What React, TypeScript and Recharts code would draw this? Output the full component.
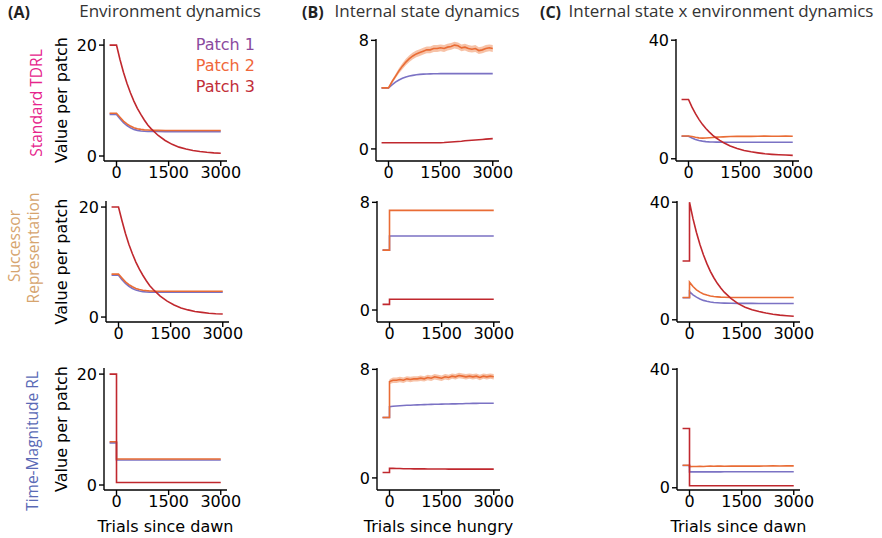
import React from 'react';
import { ComposedChart, Line, Area, XAxis, YAxis } from 'recharts';

// ---------- x grids (trials) ----------
const T = [-200, 0, 0, 100, 200, 300, 400, 500, 600, 700, 800, 900, 1000, 1200, 1400, 1600, 1800, 2000, 2200, 2400, 2600, 2800, 3000];
const T_STEP = [-200, 0, 0, 3000];
const T_FINE = [-200, -100, 0, 0, 100, 200, 300, 400, 500, 600, 700, 800, 900, 1000, 1100, 1200, 1300, 1400, 1500, 1600, 1700, 1800, 1900, 2000, 2100, 2200, 2300, 2400, 2500, 2600, 2700, 2800, 2900, 3000];

const X_TICKS = [0, 1500, 3000];
const A_TICKS = [0, 20];
const B_TICKS = [0, 8];
const C_TICKS = [0, 40];

const PATCH_NAMES = ['Patch 1', 'Patch 2', 'Patch 3'];
const COL_TITLES = ['Environment dynamics', 'Internal state dynamics', 'Internal state x environment dynamics'];
const COL_LETTERS = ['(A)', '(B)', '(C)'];
const X_LABELS = ['Trials since dawn', 'Trials since hungry', 'Trials since dawn'];
const Y_LABEL = 'Value per patch';

// ---------- Row 1: Standard TDRL ----------
const A1_P1 = [7.5, 7.5, 7.5, 6.7, 6.0, 5.5, 5.1, 4.8, 4.62, 4.52, 4.46, 4.43, 4.42, 4.41, 4.4, 4.4, 4.4, 4.4, 4.4, 4.4, 4.4, 4.4, 4.4];
const A1_P2 = [7.7, 7.7, 7.7, 7.0, 6.3, 5.8, 5.4, 5.1, 4.9, 4.8, 4.72, 4.68, 4.65, 4.62, 4.6, 4.6, 4.6, 4.6, 4.6, 4.6, 4.6, 4.6, 4.6];
const A1_P3 = [20, 20, 20, 17.4, 15.1, 13.1, 11.4, 9.9, 8.6, 7.5, 6.5, 5.6, 4.9, 3.7, 2.8, 2.1, 1.6, 1.25, 1.0, 0.82, 0.67, 0.57, 0.5];

const B1_P1 = [4.5, 4.5, 4.5, 4.5, 4.72, 4.92, 5.08, 5.2, 5.3, 5.37, 5.42, 5.46, 5.49, 5.51, 5.52, 5.53, 5.54, 5.54, 5.55, 5.55, 5.55, 5.55, 5.55, 5.55, 5.55, 5.55, 5.55, 5.55, 5.55, 5.55, 5.55, 5.55, 5.55, 5.55];
const B1_P2 = [4.5, 4.5, 4.5, 4.5, 4.95, 5.35, 5.75, 6.1, 6.4, 6.65, 6.85, 7.0, 7.1, 7.2, 7.3, 7.3, 7.4, 7.4, 7.45, 7.4, 7.5, 7.55, 7.65, 7.6, 7.45, 7.5, 7.4, 7.35, 7.4, 7.25, 7.3, 7.4, 7.45, 7.4];
const B1_P2_SD = [0.05, 0.05, 0.05, 0.05, 0.12, 0.16, 0.2, 0.22, 0.24, 0.25, 0.25, 0.25, 0.25, 0.25, 0.25, 0.25, 0.25, 0.25, 0.25, 0.25, 0.25, 0.25, 0.25, 0.25, 0.25, 0.25, 0.25, 0.25, 0.25, 0.25, 0.25, 0.25, 0.25, 0.25];
const B1_P3 = [0.45, 0.45, 0.45, 0.45, 0.45, 0.45, 0.45, 0.45, 0.45, 0.45, 0.45, 0.45, 0.45, 0.45, 0.45, 0.45, 0.45, 0.45, 0.46, 0.47, 0.49, 0.51, 0.53, 0.55, 0.57, 0.6, 0.62, 0.64, 0.66, 0.68, 0.7, 0.72, 0.74, 0.76];

const C1_P1 = [7.6, 7.6, 7.6, 7.0, 6.5, 6.15, 5.95, 5.8, 5.7, 5.65, 5.6, 5.6, 5.58, 5.57, 5.56, 5.55, 5.55, 5.55, 5.55, 5.55, 5.55, 5.55, 5.55];
const C1_P2 = [7.7, 7.7, 7.7, 7.5, 7.25, 7.05, 6.95, 7.0, 7.1, 7.2, 7.3, 7.35, 7.4, 7.5, 7.55, 7.6, 7.55, 7.6, 7.65, 7.6, 7.6, 7.65, 7.6];
const C1_P3 = [20, 20, 20, 17.4, 15.2, 13.3, 11.6, 10.2, 9.0, 7.9, 7.0, 6.2, 5.5, 4.3, 3.5, 2.8, 2.35, 2.0, 1.7, 1.5, 1.35, 1.25, 1.15];

// ---------- Row 2: Successor Representation ----------
const A2_P1 = [7.6, 7.6, 7.6, 6.8, 6.1, 5.6, 5.2, 4.9, 4.72, 4.62, 4.56, 4.53, 4.52, 4.5, 4.5, 4.5, 4.5, 4.5, 4.5, 4.5, 4.5, 4.5, 4.5];
const A2_P2 = [7.8, 7.8, 7.8, 7.1, 6.4, 5.9, 5.5, 5.2, 5.0, 4.88, 4.8, 4.75, 4.72, 4.7, 4.7, 4.7, 4.7, 4.7, 4.7, 4.7, 4.7, 4.7, 4.7];
const A2_P3 = [20, 20, 20, 17.5, 15.2, 13.2, 11.5, 10.0, 8.7, 7.6, 6.6, 5.7, 5.0, 3.8, 2.9, 2.2, 1.65, 1.3, 1.0, 0.85, 0.7, 0.6, 0.55];

const B2_P1 = [4.45, 4.45, 5.5, 5.5];
const B2_P2 = [4.45, 4.45, 7.4, 7.4];
const B2_P3 = [0.42, 0.42, 0.8, 0.8];

const C2_P1 = [7.5, 7.5, 9.6, 8.5, 7.7, 7.1, 6.6, 6.3, 6.05, 5.9, 5.8, 5.72, 5.67, 5.62, 5.6, 5.58, 5.57, 5.56, 5.55, 5.55, 5.55, 5.55, 5.55];
const C2_P2 = [7.6, 7.6, 12.8, 11.3, 10.2, 9.4, 8.8, 8.4, 8.1, 7.9, 7.8, 7.7, 7.65, 7.6, 7.6, 7.6, 7.6, 7.6, 7.6, 7.6, 7.6, 7.6, 7.6];
const C2_P3 = [20, 20, 40, 34.4, 29.7, 25.6, 22.1, 19.1, 16.5, 14.3, 12.4, 10.8, 9.4, 7.2, 5.5, 4.3, 3.4, 2.8, 2.3, 1.9, 1.6, 1.4, 1.2];

// ---------- Row 3: Time-Magnitude RL ----------
const A3_P1 = [7.6, 7.6, 4.5, 4.5];
const A3_P2 = [7.8, 7.8, 4.7, 4.7];
const A3_P3 = [20, 20, 0.45, 0.45];

const B3_P1 = [4.45, 4.45, 4.45, 5.25, 5.28, 5.3, 5.32, 5.34, 5.35, 5.36, 5.37, 5.38, 5.39, 5.4, 5.41, 5.42, 5.43, 5.43, 5.44, 5.45, 5.45, 5.46, 5.46, 5.47, 5.47, 5.48, 5.48, 5.49, 5.49, 5.5, 5.5, 5.5, 5.5, 5.5];
const B3_P2 = [4.45, 4.45, 4.45, 7.1, 7.2, 7.2, 7.25, 7.2, 7.3, 7.25, 7.3, 7.3, 7.35, 7.3, 7.4, 7.35, 7.45, 7.4, 7.35, 7.45, 7.4, 7.5, 7.45, 7.55, 7.5, 7.45, 7.5, 7.45, 7.5, 7.4, 7.5, 7.45, 7.5, 7.45];
const B3_P2_SD = [0.05, 0.05, 0.05, 0.18, 0.2, 0.2, 0.2, 0.2, 0.2, 0.2, 0.2, 0.2, 0.2, 0.2, 0.2, 0.2, 0.2, 0.2, 0.2, 0.2, 0.2, 0.2, 0.2, 0.2, 0.2, 0.2, 0.2, 0.2, 0.2, 0.2, 0.2, 0.2, 0.2, 0.2];
const B3_P3 = [0.4, 0.4, 0.4, 0.7, 0.7, 0.69, 0.69, 0.68, 0.68, 0.68, 0.67, 0.67, 0.67, 0.67, 0.66, 0.66, 0.66, 0.66, 0.66, 0.66, 0.65, 0.65, 0.65, 0.65, 0.65, 0.65, 0.65, 0.65, 0.65, 0.65, 0.65, 0.65, 0.65, 0.65];

const C3_P1 = [7.5, 7.5, 5.35, 5.35, 5.35, 5.36, 5.36, 5.37, 5.37, 5.38, 5.38, 5.38, 5.39, 5.39, 5.4, 5.4, 5.4, 5.4, 5.4, 5.4, 5.4, 5.4, 5.4];
const C3_P2 = [7.6, 7.6, 7.15, 7.2, 7.2, 7.25, 7.2, 7.25, 7.3, 7.25, 7.3, 7.3, 7.25, 7.3, 7.35, 7.3, 7.35, 7.3, 7.35, 7.4, 7.35, 7.4, 7.4];
const C3_P3 = [20, 20, 0.7, 0.7, 0.7, 0.7, 0.7, 0.7, 0.7, 0.7, 0.7, 0.7, 0.7, 0.7, 0.7, 0.7, 0.7, 0.7, 0.7, 0.7, 0.7, 0.7, 0.7];

// ---------- styling ----------
const LINE_COLORS = ['#7b72c4', '#e96c35', '#c0282e'];
const LEGEND_COLORS = ['#8b4a9e', '#f0673a', '#c22e38'];
const ROW_LABEL_COLORS = ['#e6248c', '#d6a46e', '#5a6ab6'];
const TICK_FONT = 'DejaVu Sans, sans-serif';
const TITLE_FONT = '"Open Sans", "Noto Sans", sans-serif';

const X_DOMAIN: [number, number] = [-360, 3180];
const A_DOMAIN: [number, number] = [-0.9, 21.1];
const B_DOMAIN: [number, number] = [-0.89, 8.1];
const C_DOMAIN: [number, number] = [-0.75, 40.4];

const ROW_TOPS = [39, 201, 368];
const ROW_HEIGHTS = [122, 121, 122];
const COL_LEFTS = [[104, 376, 676], [106, 377, 677], [104, 377, 677]];
const PLOT_W = 123;

type PanelDef = { xs: number[]; p1: number[]; p2: number[]; p3: number[]; sd?: number[]; domain: [number, number]; ticks: number[] };

const GRID: PanelDef[][] = [
  [
    { xs: T, p1: A1_P1, p2: A1_P2, p3: A1_P3, domain: A_DOMAIN, ticks: A_TICKS },
    { xs: T_FINE, p1: B1_P1, p2: B1_P2, p3: B1_P3, sd: B1_P2_SD, domain: B_DOMAIN, ticks: B_TICKS },
    { xs: T, p1: C1_P1, p2: C1_P2, p3: C1_P3, domain: C_DOMAIN, ticks: C_TICKS },
  ],
  [
    { xs: T, p1: A2_P1, p2: A2_P2, p3: A2_P3, domain: A_DOMAIN, ticks: A_TICKS },
    { xs: T_STEP, p1: B2_P1, p2: B2_P2, p3: B2_P3, domain: B_DOMAIN, ticks: B_TICKS },
    { xs: T, p1: C2_P1, p2: C2_P2, p3: C2_P3, domain: C_DOMAIN, ticks: C_TICKS },
  ],
  [
    { xs: T_STEP, p1: A3_P1, p2: A3_P2, p3: A3_P3, domain: A_DOMAIN, ticks: A_TICKS },
    { xs: T_FINE, p1: B3_P1, p2: B3_P2, p3: B3_P3, sd: B3_P2_SD, domain: B_DOMAIN, ticks: B_TICKS },
    { xs: T, p1: C3_P1, p2: C3_P2, p3: C3_P3, domain: C_DOMAIN, ticks: C_TICKS },
  ],
];

const YW = 40;
const MT = 14;
const XH = 30;
const MR = 28;

function Panel({ def, left, top, h }: { def: PanelDef; left: number; top: number; h: number }) {
  const data = def.xs.map((x, i) => ({
    x,
    p1: def.p1[i],
    p2: def.p2[i],
    p3: def.p3[i],
    band: def.sd ? [def.p2[i] - def.sd[i], def.p2[i] + def.sd[i]] : undefined,
  }));
  const axisStyle = { stroke: '#000', strokeWidth: 1.4 };
  const tickStyle = { fill: '#000', fontSize: 16, fontFamily: TICK_FONT };
  return (
    <div style={{ position: 'absolute', left: left - YW, top: top - MT }}>
      <ComposedChart width={YW + PLOT_W + MR} height={MT + h + XH} data={data} margin={{ top: MT, right: MR, left: 0, bottom: 0 }}>
        <XAxis
          type="number"
          dataKey="x"
          domain={X_DOMAIN}
          ticks={X_TICKS}
          allowDataOverflow
          height={XH}
          axisLine={axisStyle}
          tickLine={axisStyle}
          tickSize={5}
          tickMargin={1}
          tick={tickStyle}
          interval={0}
        />
        <YAxis
          type="number"
          domain={def.domain}
          ticks={def.ticks}
          allowDataOverflow
          width={YW}
          axisLine={axisStyle}
          tickLine={axisStyle}
          tickSize={5}
          tickMargin={2}
          tick={tickStyle}
          interval={0}
        />
        {def.sd && (
          <Area type="linear" dataKey="band" stroke="none" fill="#f08f5f" fillOpacity={0.55} isAnimationActive={false} />
        )}
        <Line type="linear" dataKey="p1" stroke={LINE_COLORS[0]} strokeWidth={1.6} dot={false} isAnimationActive={false} />
        <Line type="linear" dataKey="p2" stroke={LINE_COLORS[1]} strokeWidth={1.6} dot={false} isAnimationActive={false} />
        <Line type="linear" dataKey="p3" stroke={LINE_COLORS[2]} strokeWidth={1.6} dot={false} isAnimationActive={false} />
      </ComposedChart>
    </div>
  );
}

export default function App() {
  const panels: React.ReactNode[] = [];
  GRID.forEach((row, r) =>
    row.forEach((def, c) => {
      panels.push(<Panel key={`${r}-${c}`} def={def} left={COL_LEFTS[r][c]} top={ROW_TOPS[r]} h={ROW_HEIGHTS[r]} />);
    })
  );
  const titleX = [170, 427, 721];
  const letterX = [8, 302, 540];
  return (
    <div style={{ position: 'absolute', left: 0, top: 0, width: 882, height: 538, background: '#fff', overflow: 'hidden' }}>
      {panels}
      <svg width={882} height={538} style={{ position: 'absolute', left: 0, top: 0, pointerEvents: 'none' }}>
        {COL_LETTERS.map((t, i) => (
          <text key={t} x={letterX[i]} y={18} fontFamily={TITLE_FONT} fontWeight={700} fontSize={16} fill="#222">{t}</text>
        ))}
        {COL_TITLES.map((t, i) => (
          <text key={t} x={titleX[i]} y={17} fontFamily={TITLE_FONT} fontSize={17} fill="#333" textAnchor="middle">{t}</text>
        ))}
        {PATCH_NAMES.map((t, i) => (
          <text key={t} x={255} y={50 + i * 21} fontFamily={TICK_FONT} fontSize={16} fill={LEGEND_COLORS[i]} textAnchor="end">{t}</text>
        ))}
        <text transform="translate(42,103) rotate(-90)" fontFamily={TITLE_FONT} fontSize={15.5} fill={ROW_LABEL_COLORS[0]} textAnchor="middle">Standard TDRL</text>
        <text transform="translate(20,246) rotate(-90)" fontFamily={TITLE_FONT} fontSize={15.5} fill={ROW_LABEL_COLORS[1]} textAnchor="middle">Successor</text>
        <text transform="translate(39,248) rotate(-90)" fontFamily={TITLE_FONT} fontSize={15.5} fill={ROW_LABEL_COLORS[1]} textAnchor="middle">Representation</text>
        <text transform="translate(38,441) rotate(-90)" fontFamily={TITLE_FONT} fontSize={15.5} fill={ROW_LABEL_COLORS[2]} textAnchor="middle">Time-Magnitude RL</text>
        {ROW_TOPS.map((top, r) => (
          <text key={r} transform={`translate(67,${top + ROW_HEIGHTS[r] / 2}) rotate(-90)`} fontFamily={TICK_FONT} fontSize={16} fill="#000" textAnchor="middle">{Y_LABEL}</text>
        ))}
        {X_LABELS.map((t, c) => (
          <text key={c} x={COL_LEFTS[2][c] + PLOT_W / 2} y={532} fontFamily={TICK_FONT} fontSize={16} fill="#000" textAnchor="middle">{t}</text>
        ))}
      </svg>
    </div>
  );
}
